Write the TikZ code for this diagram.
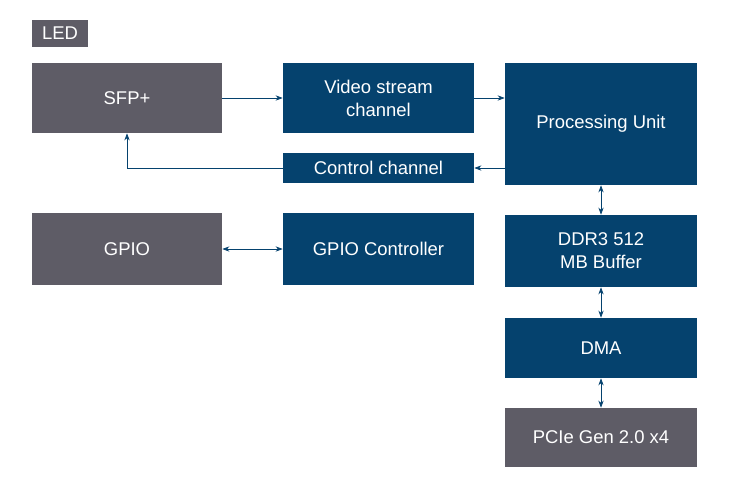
\documentclass[tikz,border=0pt]{standalone}
\usepackage{fontspec}
\setmainfont{Liberation Sans}
\usetikzlibrary{arrows.meta}
\definecolor{blk}{RGB}{5,66,110}
\definecolor{gry}{RGB}{94,92,102}
\begin{document}
\begin{tikzpicture}[x=0.02cm,y=-0.02cm,
  box/.style={fill=blk,text=white,inner sep=0pt,align=center,font=\fontsize{10.5}{13}\selectfont},
  gbox/.style={box,fill=gry},
  con/.style={draw=blk,-{Stealth[length=4pt,width=3pt]}},
  bicon/.style={draw=blk,{Stealth[length=4pt,width=3pt]}-{Stealth[length=4pt,width=3pt]}}]
\useasboundingbox (0,0) rectangle (733,477);
%boxes
\node[gbox,minimum width=56*0.02cm,minimum height=27*0.02cm] (led) at (60,33.5) {LED};
\node[gbox,minimum width=190*0.02cm,minimum height=70*0.02cm] (sfp) at (127,98) {SFP+};
\node[box,minimum width=191*0.02cm,minimum height=70*0.02cm] (video) at (378.5,98) {Video stream\\channel};
\node[box,minimum width=192*0.02cm,minimum height=122*0.02cm] (pu) at (601,124) {Processing Unit};
\node[box,minimum width=191*0.02cm,minimum height=30*0.02cm] (ctrl) at (378.5,168) {Control channel};
\node[gbox,minimum width=190*0.02cm,minimum height=72*0.02cm] (gpio) at (127,249) {GPIO};
\node[box,minimum width=191*0.02cm,minimum height=72*0.02cm] (gpioc) at (378.5,249) {GPIO Controller};
\node[box,minimum width=192*0.02cm,minimum height=72*0.02cm] (ddr) at (601,251) {DDR3 512\\MB Buffer};
\node[box,minimum width=192*0.02cm,minimum height=60*0.02cm] (dma) at (601,348) {DMA};
\node[gbox,minimum width=192*0.02cm,minimum height=59*0.02cm] (pcie) at (601,437.5) {PCIe Gen 2.0 x4};
%connectors
\draw[con] (sfp) -- (video);
\draw[con] (video.east) -- (video.east -| pu.west);
\draw[con] (ctrl.east -| pu.west) -- (ctrl.east);
\draw[con] (ctrl.west) -| (sfp.south);
\draw[bicon] (gpio) -- (gpioc);
\draw[bicon] (pu) -- (ddr);
\draw[bicon] (ddr) -- (dma);
\draw[bicon] (dma) -- (pcie);
\end{tikzpicture}
\end{document}
